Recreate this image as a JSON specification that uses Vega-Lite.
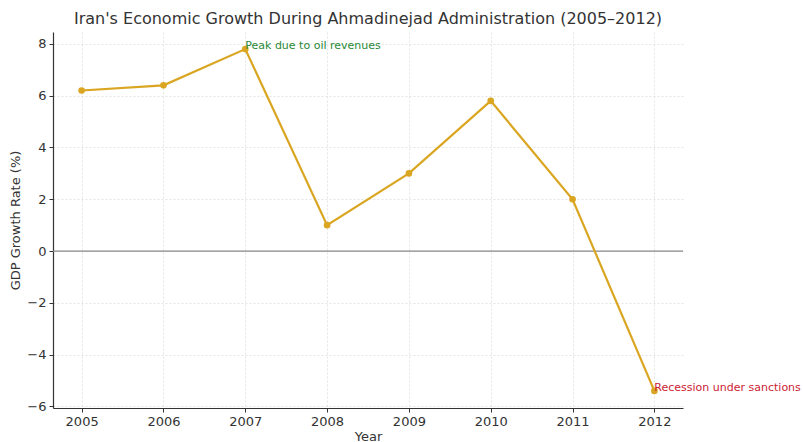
{
  "$schema": "https://vega.github.io/schema/vega-lite/v6.json",
  "width": 630,
  "height": 376,
  "autosize": "none",
  "padding": {"left": 53, "top": 32, "right": 120, "bottom": 34},
  "background": "white",
  "config": {
    "view": {"stroke": null},
    "font": "DejaVu Sans",
    "axis": {
      "labelFont": "DejaVu Sans",
      "titleFont": "DejaVu Sans",
      "labelFontSize": 13,
      "titleFontSize": 13,
      "labelColor": "#333333",
      "titleColor": "#333333",
      "titleFontWeight": "normal",
      "domainColor": "#333333",
      "domainWidth": 1.2,
      "tickColor": "#333333",
      "tickSize": 4,
      "gridColor": "#dddddd",
      "gridDash": [2, 2],
      "gridWidth": 0.8
    }
  },
  "title": {
    "text": "Iran's Economic Growth During Ahmadinejad Administration (2005–2012)",
    "font": "DejaVu Sans",
    "fontSize": 16,
    "fontWeight": "normal",
    "color": "#333333",
    "anchor": "middle",
    "offset": 5
  },
  "data": {
    "values": [
      {"year": 2005, "growth": 6.2, "note": ""},
      {"year": 2006, "growth": 6.4, "note": ""},
      {"year": 2007, "growth": 7.8, "note": "Peak due to oil revenues"},
      {"year": 2008, "growth": 1.0, "note": ""},
      {"year": 2009, "growth": 3.0, "note": ""},
      {"year": 2010, "growth": 5.8, "note": ""},
      {"year": 2011, "growth": 2.0, "note": ""},
      {"year": 2012, "growth": -5.4, "note": "Recession under sanctions"}
    ]
  },
  "encoding": {
    "x": {
      "field": "year",
      "type": "quantitative",
      "scale": {"domain": [2004.65, 2012.35], "nice": false, "zero": false},
      "axis": {
        "title": "Year",
        "values": [2005, 2006, 2007, 2008, 2009, 2010, 2011, 2012],
        "format": "d",
        "titlePadding": 2,
        "labelPadding": 3
      }
    },
    "y": {
      "field": "growth",
      "type": "quantitative",
      "scale": {"domain": [-6.06, 8.46], "nice": false, "zero": false},
      "axis": {
        "title": "GDP Growth Rate (%)",
        "values": [-6, -4, -2, 0, 2, 4, 6, 8],
        "labelExpr": "replace(format(datum.value, 'd'), '-', '−')",
        "titlePadding": 4,
        "labelPadding": 3
      }
    }
  },
  "layer": [
    {
      "data": {"values": [{"zero": 0}]},
      "mark": {"type": "rule", "color": "#888888", "strokeWidth": 1.2},
      "encoding": {
        "x": null,
        "y": {"field": "zero", "type": "quantitative"}
      }
    },
    {
      "mark": {"type": "line", "color": "#DAA520", "strokeWidth": 2.2, "point": {"filled": true, "size": 44, "color": "#DAA520"}}
    },
    {
      "transform": [{"filter": "datum.note !== ''"}],
      "mark": {"type": "text", "align": "left", "baseline": "alphabetic", "fontSize": 11, "font": "DejaVu Sans"},
      "encoding": {
        "text": {"field": "note"},
        "color": {
          "field": "note",
          "type": "nominal",
          "scale": {"domain": ["Peak due to oil revenues", "Recession under sanctions"], "range": ["#2a8a36", "#cc2233"]},
          "legend": null
        }
      }
    }
  ]
}
